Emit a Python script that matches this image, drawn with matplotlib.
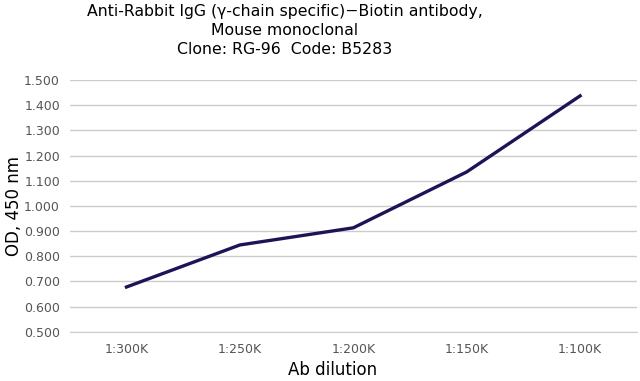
import matplotlib.pyplot as plt

dilutions = ['1:300K', '1:250K', '1:200K', '1:150K', '1:100K']
od_values = [0.678, 0.845, 0.913, 1.135, 1.437]
y_ticks = [0.5, 0.6, 0.7, 0.8, 0.9, 1.0, 1.1, 1.2, 1.3, 1.4, 1.5]

fig = plt.figure(figsize=(6.4, 3.81), dpi=100)
ax = fig.add_axes([0.109, 0.129, 0.886, 0.661])

x = range(len(dilutions))
ax.plot(x, od_values, color='#1c1457', linewidth=2.4, solid_joinstyle='miter')

ax.set_xlim(-0.5, len(dilutions) - 0.5)
ax.set_ylim(0.5, 1.5)
ax.set_yticks(y_ticks)
ax.set_yticklabels(['{:.3f}'.format(v) for v in y_ticks])
ax.set_xticks(list(x))
ax.set_xticklabels(dilutions)
ax.tick_params(axis='both', length=0, labelsize=9, labelcolor='#555555')
ax.tick_params(axis='y', pad=7)
ax.tick_params(axis='x', pad=8)
ax.grid(True, axis='y', color='#cccccc', linewidth=1)
ax.set_axisbelow(True)
for s in ax.spines.values():
    s.set_visible(False)
ax.spines['bottom'].set_visible(True)
ax.spines['bottom'].set_color('#cccccc')

fig.text(0.445, 0.99, 'Anti-Rabbit IgG (\u03b3-chain specific)\u2212Biotin antibody,\n'
         'Mouse monoclonal\nClone: RG-96  Code: B5283',
         ha='center', va='top', fontsize=11.3, linespacing=1.35)
fig.text(0.519, 0.03, 'Ab dilution', ha='center', va='center', fontsize=12)
fig.text(0.022, 0.46, 'OD, 450 nm', ha='center', va='center', rotation=90, fontsize=12)

fig.savefig('out.png', dpi=100)
